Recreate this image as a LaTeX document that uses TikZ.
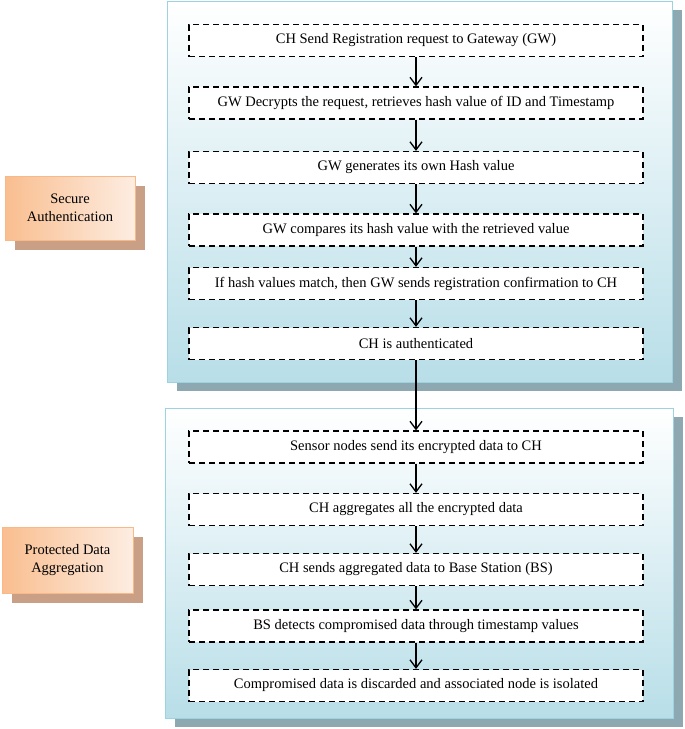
\documentclass[tikz,border=0pt]{standalone}
\usepackage{fontspec}
\setmainfont{Liberation Serif}
\usetikzlibrary{arrows.meta,shadows}

\definecolor{panelblue}{HTML}{B8DEE8}
\definecolor{panelline}{HTML}{9CD3E2}
\definecolor{panelshade}{HTML}{8EA8B1}
\definecolor{tagorange}{HTML}{F9BE8F}
\definecolor{taglight}{HTML}{FDEDE2}
\definecolor{tagline}{HTML}{F8B887}
\definecolor{tagshade}{HTML}{C9A086}

\newcommand{\txt}{\fontsize{14.5}{18}\selectfont}

\begin{document}
\begin{tikzpicture}[x = 1pt, y = -1pt,
  panel/.style = {draw = panelline, line width = 1pt, top color = white, bottom color = panelblue,
    drop shadow = {shadow xshift = 10pt, shadow yshift = -9pt, fill = panelshade, opacity = 1}},
  tag/.style = {draw = tagline, line width = 0.8pt, left color = tagorange, right color = taglight,
    align = center, font = \txt,
    drop shadow = {shadow xshift = 10pt, shadow yshift = -10pt, fill = tagshade, opacity = 1}},
  stepbox/.style = {draw, dash pattern = on 6pt off 4pt, line width = 1.3pt, fill = white,
    minimum width = 454pt, minimum height = 32pt, font = \txt},
  flow/.style = {line width = 1.3pt, -{Straight Barb[length = 8pt, width = 12pt, line width = 1.3pt]}}]

\useasboundingbox (0,0) rectangle (685,729);

% panels
\node (p1) [panel, minimum width = 505pt, minimum height = 381pt] at (419.5,191.5) {};
\node (p2) [panel, minimum width = 508pt, minimum height = 310pt] at (419,563) {};

% labels
\node (l1) [tag, minimum width = 130pt, minimum height = 64pt] at (70,208) {Secure\\Authentication};
\node (l2) [tag, minimum width = 131pt, minimum height = 66pt] at (67.5,560) {Protected Data\\Aggregation};

% authentication steps
\node (b1) [stepbox] at (416,40.5) {CH Send Registration request to Gateway (GW)};
\node (b2) [stepbox] at (416,103) {GW Decrypts the request, retrieves hash value of ID and Timestamp};
\node (b3) [stepbox] at (416,167.5) {GW generates its own Hash value};
\node (b4) [stepbox] at (416,230) {GW compares its hash value with the retrieved value};
\node (b5) [stepbox] at (416,283.5) {If hash values match, then GW sends registration confirmation to CH};
\node (b6) [stepbox] at (416,343.5) {CH is authenticated};

% aggregation steps
\node (b7) [stepbox] at (416,447) {Sensor nodes send its encrypted data to CH};
\node (b8) [stepbox] at (416,509.5) {CH aggregates all the encrypted data};
\node (b9) [stepbox] at (416,569.5) {CH sends aggregated data to Base Station (BS)};
\node (b10) [stepbox] at (416,626) {BS detects compromised data through timestamp values};
\node (b11) [stepbox] at (416,685.5) {Compromised data is discarded and associated node is isolated};

\draw [flow] (b1) edge (b2);
\draw [flow] (b2) edge (b3);
\draw [flow] (b3) edge (b4);
\draw [flow] (b4) edge (b5);
\draw [flow] (b5) edge (b6);
\draw [flow] (b6) edge (b7);
\draw [flow] (b7) edge (b8);
\draw [flow] (b8) edge (b9);
\draw [flow] (b9) edge (b10);
\draw [flow] (b10) edge (b11);
\end{tikzpicture}
\end{document}
